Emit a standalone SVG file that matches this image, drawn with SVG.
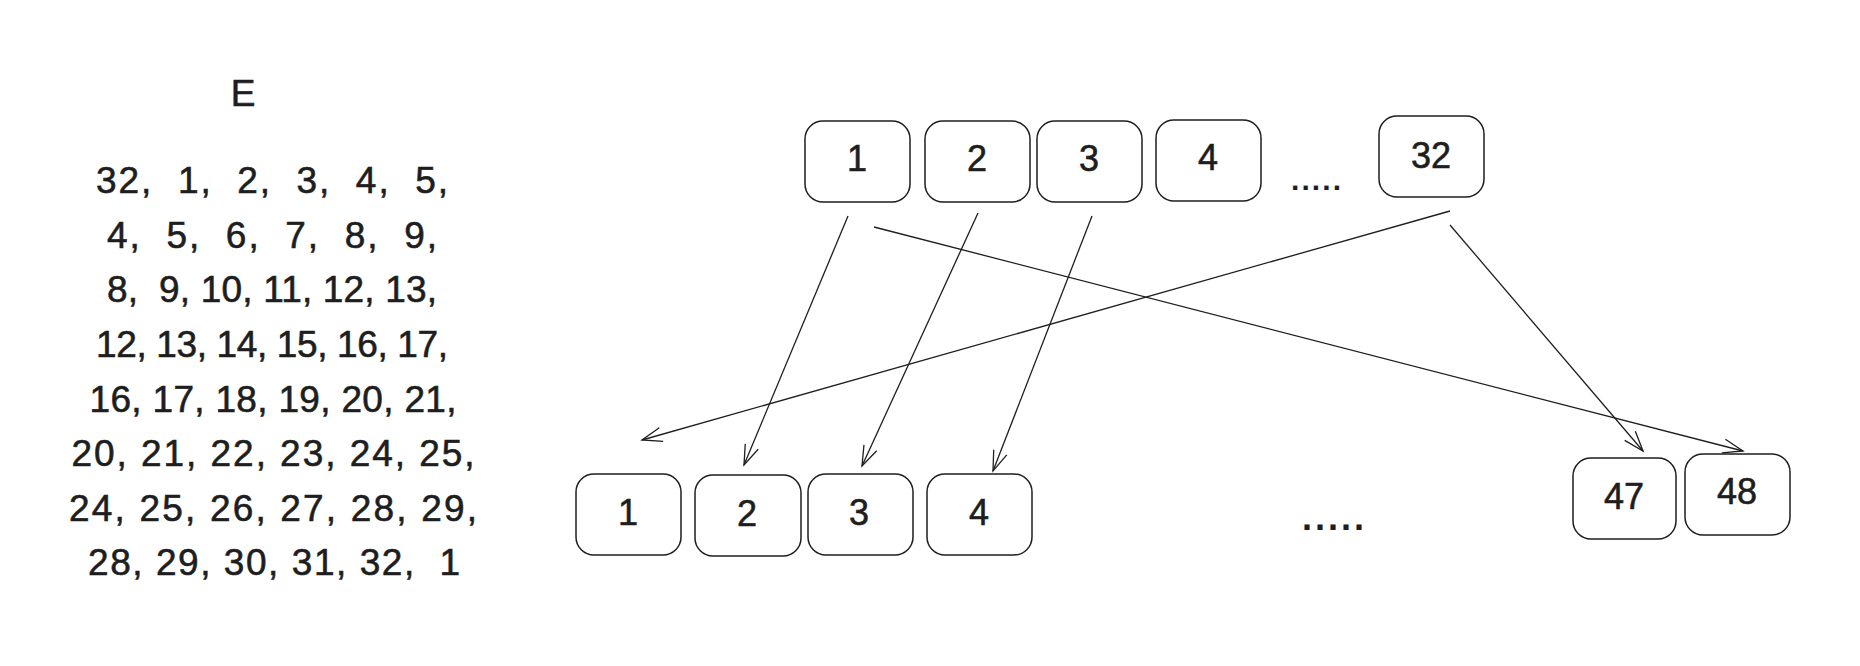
<svg xmlns="http://www.w3.org/2000/svg" width="1860" height="666" viewBox="0 0 1860 666">
<defs>
<style>
.bg{fill:#ffffff}
.box{fill:none;stroke:#1e1e1e;stroke-width:1.5}
.lbl{font-family:"Liberation Sans",Arial,sans-serif;font-size:36px;fill:#1e1e1e;stroke:#1e1e1e;stroke-width:0.6;text-anchor:middle}
.row{font-family:"Liberation Sans",Arial,sans-serif;font-size:37px;fill:#1e1e1e;stroke:#1e1e1e;stroke-width:0.6;text-anchor:middle}
.dots{font-family:"Liberation Sans",Arial,sans-serif;font-weight:bold;fill:#1e1e1e;text-anchor:middle}
.conn{fill:none;stroke:#1e1e1e;stroke-width:1.3;marker-end:url(#ah)}
</style>
<marker id="ah" markerUnits="userSpaceOnUse" markerWidth="30" markerHeight="30" viewBox="-24 -12 30 24" refX="0" refY="0" orient="auto">
<path d="M-20,-7 L0,0 L-20,7" fill="none" stroke="#1e1e1e" stroke-width="1.3"/>
</marker>
</defs>
<rect class="bg" x="0" y="0" width="1860" height="666"/>

<g id="matrix-E">
<text class="row" x="243" y="106">E</text>
<text class="row" x="272" y="193" textLength="352" lengthAdjust="spacing" xml:space="preserve">32,  1,  2,  3,  4,  5,</text>
<text class="row" x="272" y="248" textLength="330" lengthAdjust="spacing" xml:space="preserve">4,  5,  6,  7,  8,  9,</text>
<text class="row" x="272" y="302" textLength="330" lengthAdjust="spacing" xml:space="preserve">8,  9, 10, 11, 12, 13,</text>
<text class="row" x="272" y="357" textLength="352" lengthAdjust="spacing">12, 13, 14, 15, 16, 17,</text>
<text class="row" x="273" y="412" textLength="367" lengthAdjust="spacing">16, 17, 18, 19, 20, 21,</text>
<text class="row" x="273" y="466" textLength="403" lengthAdjust="spacing">20, 21, 22, 23, 24, 25,</text>
<text class="row" x="273" y="521" textLength="408" lengthAdjust="spacing">24, 25, 26, 27, 28, 29,</text>
<text class="row" x="274" y="575" textLength="372" lengthAdjust="spacing" xml:space="preserve">28, 29, 30, 31, 32,  1</text>
</g>

<g id="top-1"><rect class="box" x="805" y="121" width="105" height="81" rx="18"/><text class="lbl" x="857" y="171">1</text></g>
<g id="top-2"><rect class="box" x="925" y="121" width="105" height="81" rx="18"/><text class="lbl" x="977" y="171">2</text></g>
<g id="top-3"><rect class="box" x="1037" y="121" width="105" height="81" rx="18"/><text class="lbl" x="1089" y="171">3</text></g>
<g id="top-4"><rect class="box" x="1156" y="120" width="105" height="81" rx="18"/><text class="lbl" x="1208" y="170">4</text></g>
<g id="top-dots"><text class="dots" x="1316" y="190" font-size="30" textLength="50" lengthAdjust="spacing">.....</text></g>
<g id="top-32"><rect class="box" x="1379" y="116" width="105" height="81" rx="18"/><text class="lbl" x="1431" y="168">32</text></g>

<g id="bot-1"><rect class="box" x="576" y="474" width="105" height="81" rx="18"/><text class="lbl" x="628" y="525">1</text></g>
<g id="bot-2"><rect class="box" x="695" y="475" width="106" height="81" rx="18"/><text class="lbl" x="747" y="526">2</text></g>
<g id="bot-3"><rect class="box" x="808" y="474" width="105" height="81" rx="18"/><text class="lbl" x="859" y="525">3</text></g>
<g id="bot-4"><rect class="box" x="927" y="474" width="105" height="81" rx="18"/><text class="lbl" x="979" y="525">4</text></g>
<g id="bot-dots"><text class="dots" x="1333" y="530" font-size="36" textLength="62" lengthAdjust="spacing">.....</text></g>
<g id="bot-47"><rect class="box" x="1573" y="458" width="103" height="81" rx="18"/><text class="lbl" x="1624" y="509">47</text></g>
<g id="bot-48"><rect class="box" x="1685" y="454" width="105" height="81" rx="18"/><text class="lbl" x="1737" y="504">48</text></g>

<g id="connectors">
<path class="conn" d="M848,216 L744,465"/>
<path class="conn" d="M978,213 L862,466"/>
<path class="conn" d="M1092,216 L993,471"/>
<path class="conn" d="M874,227 L1743,451"/>
<path class="conn" d="M1450,211 L642,440"/>
<path class="conn" d="M1450,225 L1643,451"/>
</g>
</svg>
